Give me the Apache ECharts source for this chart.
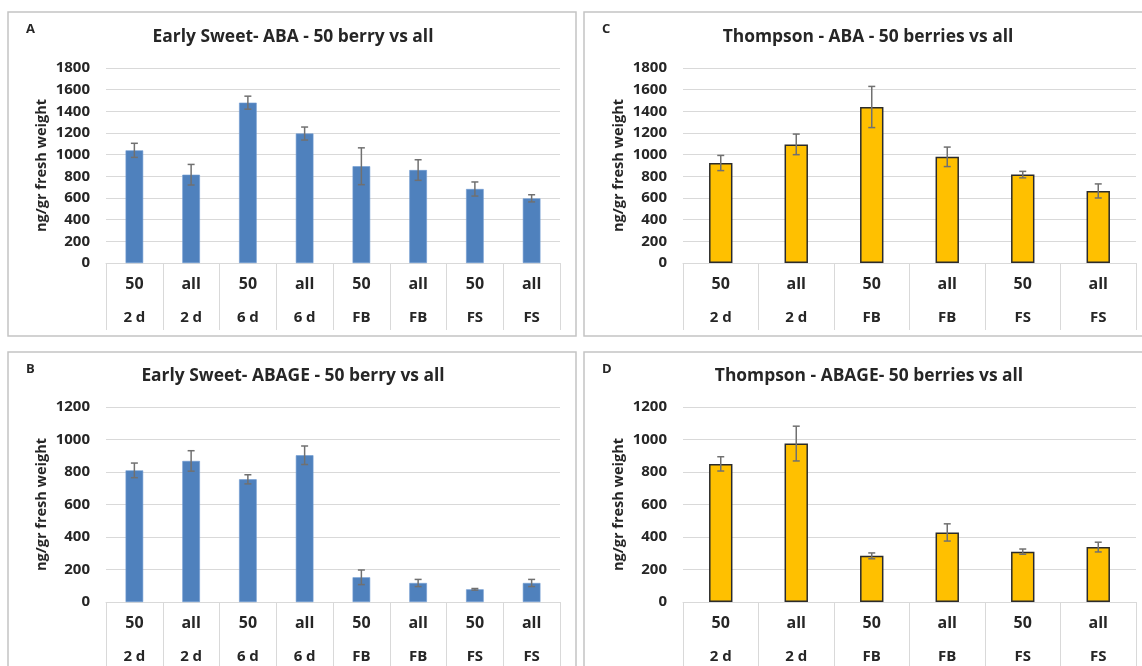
<!DOCTYPE html>
<html>
<head>
<meta charset="utf-8">
<script src="https://cdn.jsdelivr.net/npm/echarts@6/dist/echarts.min.js"></script>
<style>
html,body{margin:0;padding:0;background:#fff;}
#chart{width:1142px;height:666px;}
</style>
</head>
<body>
<div id="chart"></div>
<script>
// ---- data ----
const catsEarly = ['50', 'all', '50', 'all', '50', 'all', '50', 'all'];
const groupsEarly = ['2 d', '2 d', '6 d', '6 d', 'FB', 'FB', 'FS', 'FS'];
const catsThompson = ['50', 'all', '50', 'all', '50', 'all'];
const groupsThompson = ['2 d', '2 d', 'FB', 'FB', 'FS', 'FS'];

const earlyABA = [1040, 815, 1480, 1195, 893, 858, 683, 597];
const earlyABAerr = [65, 95, 60, 60, 170, 95, 65, 33];
const earlyABAGE = [810, 868, 755, 903, 152, 117, 78, 117];
const earlyABAGEerr = [45, 63, 28, 57, 45, 22, 5, 22];
const thompABA = [923, 1095, 1440, 980, 816, 665];
const thompABAerr = [70, 95, 190, 90, 30, 65];
const thompABAGE = [850, 975, 284, 428, 310, 338];
const thompABAGEerr = [44, 107, 18, 53, 16, 30];

const titles = ['Early Sweet- ABA - 50 berry vs all', 'Thompson - ABA - 50 berries vs all',
                'Early Sweet- ABAGE - 50 berry vs all', 'Thompson - ABAGE- 50 berries vs all'];
const letters = ['A', 'C', 'B', 'D'];
const yMaxes = [1800, 1800, 1200, 1200];
const yAxisName = 'ng/gr fresh weight';

// ---- layout ----
const FONT = '"Open Sans", Lato, sans-serif';
const TXT = '#262626';
const panels = [
  {cats: catsEarly, groups: groupsEarly, vals: earlyABA, errs: earlyABAerr, color: '#4F81BD', border: null,
   grid: {left: 106, top: 68, width: 454, height: 195}, box: {x: 8, y: 12, w: 568, h: 324}, cx: 293, ty: 37},
  {cats: catsThompson, groups: groupsThompson, vals: thompABA, errs: thompABAerr, color: '#FFC000', border: '#2b2b2b',
   grid: {left: 683, top: 68, width: 453, height: 195}, box: {x: 584, y: 12, w: 600, h: 324}, cx: 868, ty: 37},
  {cats: catsEarly, groups: groupsEarly, vals: earlyABAGE, errs: earlyABAGEerr, color: '#4F81BD', border: null,
   grid: {left: 106, top: 407, width: 454, height: 195}, box: {x: 8, y: 352, w: 568, h: 400}, cx: 293, ty: 376},
  {cats: catsThompson, groups: groupsThompson, vals: thompABAGE, errs: thompABAGEerr, color: '#FFC000', border: '#2b2b2b',
   grid: {left: 683, top: 407, width: 453, height: 195}, box: {x: 584, y: 352, w: 600, h: 400}, cx: 869, ty: 376}
];

const grids = [], xAxes = [], yAxes = [], series = [], graphics = [];

panels.forEach((p, i) => {
  graphics.push({type: 'rect', shape: {x: p.box.x, y: p.box.y, width: p.box.w, height: p.box.h},
    style: {fill: '#fff', stroke: '#c4c4c4', lineWidth: 1.5}, z: -10, silent: true});
  graphics.push({type: 'text', x: p.cx, y: p.ty, style: {text: titles[i], font: 'bold 17.4px ' + FONT,
    fill: TXT, align: 'center', verticalAlign: 'middle'}});
  graphics.push({type: 'text', x: p.box.x + 18, y: p.box.y + 17, style: {text: letters[i], font: 'bold 13px ' + FONT,
    fill: TXT, align: 'left', verticalAlign: 'middle'}});

  grids.push(Object.assign({containLabel: false}, p.grid));
  const groups = p.groups;
  xAxes.push({
    type: 'category', gridIndex: i, data: p.cats,
    axisLine: {show: true, lineStyle: {color: '#d9d9d9', width: 1}},
    axisTick: {show: true, length: 67, alignWithLabel: false, lineStyle: {color: '#d9d9d9', width: 1}},
    axisLabel: {
      margin: 4, interval: 0,
      formatter: (v, idx) => '{a|' + v + '}\n{b|' + groups[idx] + '}',
      rich: {
        a: {fontFamily: FONT, fontWeight: 'bold', fontSize: 16, color: TXT, lineHeight: 34},
        b: {fontFamily: FONT, fontWeight: 'bold', fontSize: 15, color: TXT, lineHeight: 34}
      }
    }
  });
  yAxes.push({
    type: 'value', gridIndex: i, min: 0, max: yMaxes[i], interval: 200,
    name: yAxisName, nameLocation: 'middle', nameGap: 57, nameRotate: 90,
    nameTextStyle: {fontFamily: FONT, fontWeight: 'bold', fontSize: 14.5, color: TXT},
    axisLine: {show: false}, axisTick: {show: false},
    axisLabel: {margin: 16, fontFamily: FONT, fontWeight: 'bold', fontSize: 15, color: TXT,
      formatter: (v) => String(v)},
    splitLine: {show: true, lineStyle: {color: '#d9d9d9', width: 1}}
  });
  series.push({
    type: 'bar', xAxisIndex: i, yAxisIndex: i, data: p.vals, barWidth: '31%',
    itemStyle: p.border ? {color: p.color, borderColor: p.border, borderWidth: 1.5}
                        : {color: p.color, borderColor: '#6f9bd1', borderWidth: 0.6},
    silent: true
  });
  series.push({
    type: 'custom', xAxisIndex: i, yAxisIndex: i, z: 5, silent: true,
    data: p.vals.map((v, k) => [k, v, p.errs[k]]),
    encode: {x: 0, y: 1},
    renderItem: (params, api) => {
      const k = api.value(0), v = api.value(1), e = api.value(2);
      const hi = api.coord([k, v + e]);
      const lo = api.coord([k, v - e]);
      const cap = 3.5;
      const st = {stroke: '#707070', lineWidth: 1.5};
      return {type: 'group', children: [
        {type: 'line', shape: {x1: hi[0], y1: hi[1], x2: lo[0], y2: lo[1]}, style: st},
        {type: 'line', shape: {x1: hi[0] - cap, y1: hi[1], x2: hi[0] + cap, y2: hi[1]}, style: st},
        {type: 'line', shape: {x1: lo[0] - cap, y1: lo[1], x2: lo[0] + cap, y2: lo[1]}, style: st}
      ]};
    }
  });
});

const chart = echarts.init(document.getElementById('chart'), null, {renderer: 'canvas'});
chart.setOption({
  backgroundColor: '#ffffff',
  animation: false,
  grid: grids, xAxis: xAxes, yAxis: yAxes, series: series,
  graphic: {elements: graphics}
});
</script>
</body>
</html>
